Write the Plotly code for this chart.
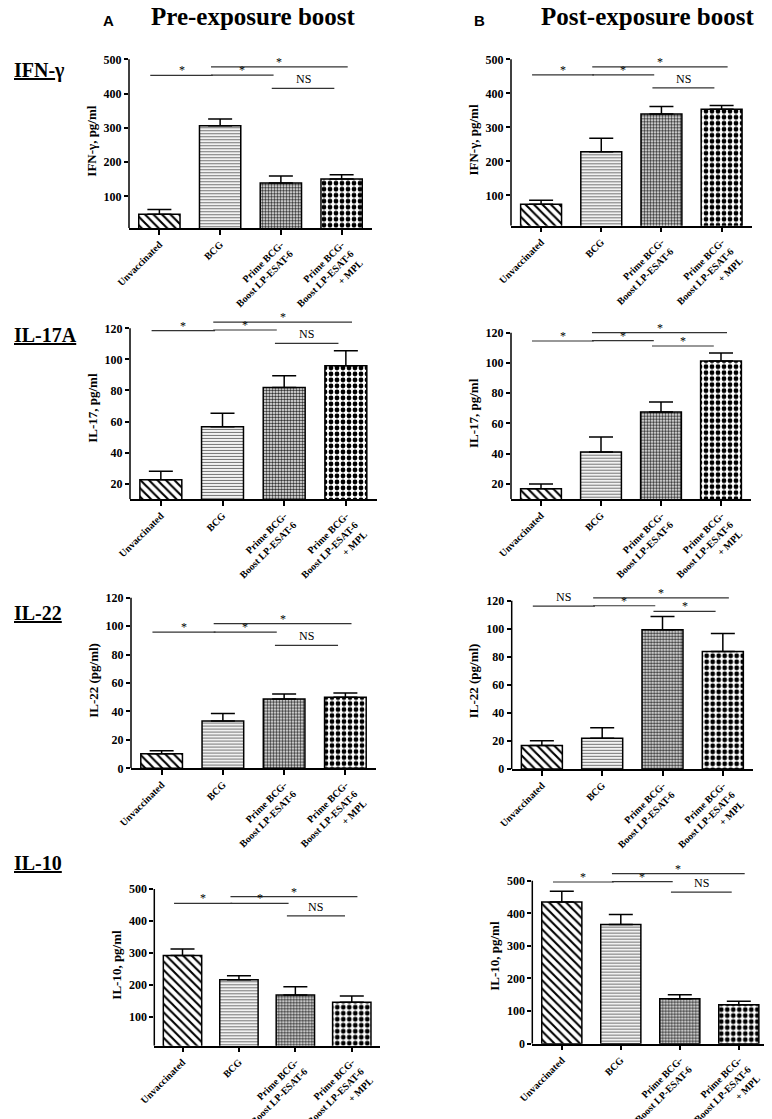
import plotly.graph_objects as go

W, H = 772, 1119
OFF = 8  # the page body adds an 8 px margin around the figure
FW, FH = W - OFF, H - OFF  # figure size that fits the window without scrollbars
SERIF = "Liberation Serif"

groups = ["Unvaccinated", "BCG", "Prime BCG-<br>Boost LP-ESAT-6",
          "Prime BCG-<br>Boost LP-ESAT-6<br>+ MPL"]

# means and upper error (SEM)
ifn_pre = [48, 306, 139, 151]
ifn_pre_err = [14, 20, 21, 12]
ifn_post = [74, 228, 339, 353]
ifn_post_err = [12, 40, 22, 11]
il17_pre = [22.6, 56.6, 81.9, 95.9]
il17_pre_err = [5.4, 8.8, 7.6, 9.7]
il17_post = [16.7, 41.1, 67.5, 101.3]
il17_post_err = [3.3, 9.9, 6.6, 5.3]
il22_pre = [10.3, 33.3, 48.8, 50.0]
il22_pre_err = [2.1, 5.2, 3.5, 3.0]
il22_post = [16.7, 21.9, 99.3, 83.8]
il22_post_err = [3.5, 7.6, 9.5, 12.9]
il10_pre = [291.6, 215.7, 167.8, 145.0]
il10_pre_err = [20.4, 12.3, 26.2, 19.7]
il10_post = [434.6, 366.0, 137.8, 119.4]
il10_post_err = [33.4, 30.0, 12.2, 10.6]

# compared groups and their significance labels
pairs = [(0, 1), (1, 2), (1, 3), (2, 3)]
sig_default = ["*", "*", "*", "NS"]
sig_il17_post = ["*", "*", "*", "*"]
sig_il22_post = ["NS", "*", "*", "*"]

ticks_500 = [100, 200, 300, 400, 500]
ticks_500_0 = [0, 100, 200, 300, 400, 500]
ticks_120 = [20, 40, 60, 80, 100, 120]
ticks_120_0 = [0, 20, 40, 60, 80, 100, 120]

# bar fill patterns, one per group
pat_shapes = ["\\", "-", ".", "."]
pat_sizes = [6, 3, 3, 6]
pat_solid = [0.35, 0.4, 0.55, 0.5]
pat_fg = ["black", "#777", "#333", "black"]

# panel boxes in pixels: left, right, y of top tick, y of x-axis
panels = [
    dict(mean=ifn_pre, err=ifn_pre_err, sig=sig_default, ticks=ticks_500, title="IFN-γ, pg/ml",
         box=(129, 372, 59.3, 228), lo=8, top=500, levels=[453, 454, 478, 415]),
    dict(mean=ifn_post, err=ifn_post_err, sig=sig_default, ticks=ticks_500, title="IFN-γ, pg/ml",
         box=(511, 751.7, 59.3, 225.7), lo=11, top=500, levels=[454, 454, 478, 416]),
    dict(mean=il17_pre, err=il17_pre_err, sig=sig_default, ticks=ticks_120, title="IL-17, pg/ml",
         box=(130, 376.7, 328.3, 499.3), lo=10, top=120, levels=[118.5, 118.9, 124, 110.3]),
    dict(mean=il17_post, err=il17_post_err, sig=sig_il17_post, ticks=ticks_120, title="IL-17, pg/ml",
         box=(511, 751, 332.7, 499), lo=10, top=120, levels=[114.5, 114.7, 120, 111.2]),
    dict(mean=il22_pre, err=il22_pre_err, sig=sig_default, ticks=ticks_120_0, title="IL-22 (pg/ml)",
         box=(131, 376, 597.7, 768.3), lo=0, top=120, levels=[95.8, 95.8, 101.7, 86.4]),
    dict(mean=il22_post, err=il22_post_err, sig=sig_il22_post, ticks=ticks_120_0, title="IL-22 (pg/ml)",
         box=(511.7, 753, 600.7, 769), lo=0, top=120, levels=[116.2, 116.4, 122, 112.4]),
    dict(mean=il10_pre, err=il10_pre_err, sig=sig_default, ticks=ticks_500, title="IL-10, pg/ml",
         box=(154.3, 380, 889, 1045.7), lo=9, top=500, levels=[455, 455, 476, 415.5]),
    dict(mean=il10_post, err=il10_post_err, sig=sig_default, ticks=ticks_500_0, title="IL-10, pg/ml",
         box=(532.3, 768.3, 880.7, 1043.7), lo=0, top=500, levels=[496, 497, 522, 465]),
]


def xp(px):
    return (px - OFF) / FW


def yp(py):
    return 1 - (py - OFF) / FH


fig = go.Figure()

for i, p in enumerate(panels, start=1):
    sfx = "" if i == 1 else str(i)
    xa, ya = "x" + sfx, "y" + sfx
    left, right, top_px, bot_px = p["box"]
    ppu = (bot_px - top_px) / (p["top"] - p["lo"])
    hi = max(p["top"], max(p["levels"])) + 0.03 * (p["top"] - p["lo"])
    dom_top = top_px - (hi - p["top"]) * ppu

    fig.add_trace(go.Bar(
        x=[0, 1, 2, 3], y=p["mean"], xaxis=xa, yaxis=ya, width=0.68, showlegend=False,
        marker=dict(color="white", line=dict(color="black", width=1.5),
                    pattern=dict(shape=pat_shapes, size=pat_sizes, solidity=pat_solid,
                                 fgcolor=pat_fg, bgcolor="white", fillmode="replace")),
        error_y=dict(type="data", symmetric=False, array=p["err"], arrayminus=[0] * 4,
                     color="black", thickness=1.5, width=12),
    ))

    fig.layout["xaxis" + sfx] = dict(
        domain=[xp(left), xp(right)], anchor=ya, range=[-0.5, 3.5], automargin=False,
        tickvals=[0, 1, 2, 3], ticktext=groups, tickangle=-45,
        showline=True, linecolor="black", linewidth=1.5,
        ticks="outside", ticklen=5, tickwidth=1.5, tickcolor="black",
        showgrid=False, zeroline=False,
        tickfont=dict(family=SERIF, size=10, color="black", weight="bold"),
    )
    fig.layout["yaxis" + sfx] = dict(
        domain=[yp(bot_px), yp(dom_top)], anchor=xa, range=[p["lo"], hi],
        automargin=False, tickvals=p["ticks"], showline=False, showgrid=False, zeroline=False,
        ticks="outside", ticklen=4, tickwidth=1.5, tickcolor="black",
        tickfont=dict(family=SERIF, size=12, color="black", weight="bold"),
        title=dict(text=p["title"], standoff=4,
                   font=dict(family=SERIF, size=13, color="black", weight="bold")),
    )

    # y axis line stops at the top tick
    fig.add_shape(type="line", xref=xa + " domain", yref=ya, x0=0, x1=0,
                  y0=p["lo"], y1=p["top"], line=dict(color="black", width=1.5))

    for (a, b), lab, lev in zip(pairs, p["sig"], p["levels"]):
        x0 = a - 0.15
        x1 = b + 0.1 if b - a > 1 else b - 0.12
        fig.add_shape(type="line", xref=xa, yref=ya, x0=x0, x1=x1, y0=lev, y1=lev,
                      line=dict(color="#333", width=1.2))
        fig.add_annotation(xref=xa, yref=ya, x=(x0 + x1) / 2, y=lev, text=lab,
                           showarrow=False, xanchor="center", yanchor="bottom",
                           yshift=-4 if lab == "*" else 0,
                           font=dict(family=SERIF, size=12, color="black"))

# column headers
for letter, lx, head, hx in [("A", 108, "Pre-exposure boost", 253),
                             ("B", 479, "Post-exposure boost", 647)]:
    fig.add_annotation(xref="paper", yref="paper", x=xp(lx), y=yp(20), text=letter,
                       showarrow=False, xanchor="center", yanchor="middle",
                       font=dict(family="Liberation Sans", size=15,
                                 color="black", weight="bold"))
    fig.add_annotation(xref="paper", yref="paper", x=xp(hx), y=yp(17), text=head,
                       showarrow=False, xanchor="center", yanchor="middle",
                       font=dict(family=SERIF, size=25, color="black", weight="bold"))

# row labels
for text, ry in [("<u>IFN-</u>γ", 70), ("<u>IL-17A</u>", 335),
                 ("<u>IL-22</u>", 613), ("<u>IL-10</u>", 863)]:
    fig.add_annotation(xref="paper", yref="paper", x=xp(12), y=yp(ry), text=text,
                       xanchor="left", yanchor="middle", showarrow=False,
                       font=dict(family=SERIF, size=20, color="black", weight="bold"))

fig.update_layout(template="none", width=FW, height=FH,
                  margin=dict(l=0, r=0, t=0, b=0, autoexpand=False),
                  plot_bgcolor="white", paper_bgcolor="white")

fig.write_html("out.html")
